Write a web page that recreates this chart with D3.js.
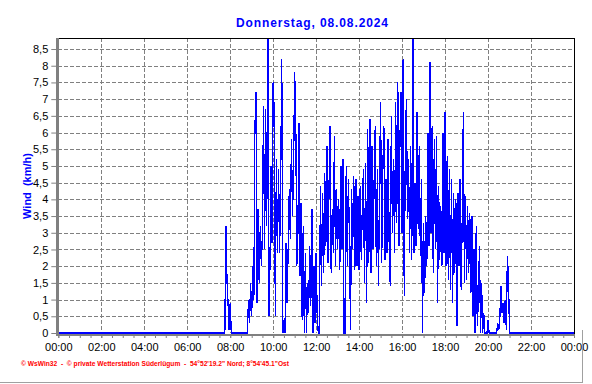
<!DOCTYPE html>
<html><head><meta charset="utf-8">
<script src="https://cdn.jsdelivr.net/npm/d3@7"></script>
<style>
html,body{margin:0;padding:0;background:#fff;}
svg{display:block;}
</style>
</head><body>
<svg id="chart" width="592" height="384"></svg>
<script>
const titleText = "Donnerstag, 08.08.2024";
const yAxisTitle = "Wind  (km/h)";
const footerText = "\u00A9 WsWin32  -  \u00A9 private Wetterstation S\u00FCderl\u00FCgum  -  54\u00B052'19.2\" Nord; 8\u00B054'45.1\"Ost";
const yTickValues = [0,0.5,1,1.5,2,2.5,3,3.5,4,4.5,5,5.5,6,6.5,7,7.5,8,8.5];
const xTickMinutes = [0,120,240,360,480,600,720,840,960,1080,1200,1320,1440];
const xTickLabels = ["00:00","02:00","04:00","06:00","08:00","10:00","12:00","14:00","16:00","18:00","20:00","22:00","00:00"];
// calm before/after the measured window (minute of day, km/h)
const calmBefore = [[0,0]];
const calmAfter = [[1440,0]];
// wind samples from 07:42 every 3 minutes
const sampleStartMinute = 462;
const sampleStepMinutes = 3;
const windKmh = [
0,0,3.2,1.6,0.9,0.1,0.9,0,0,0,0,0,0,0,0,0,0,0,0,0,0,0,0,
1.0,0.3,1.5,0.5,2.0,1.0,6.1,7.2,0.9,3.7,1.5,3.2,2.0,3.0,6.8,2.5,6.7,3.2,9.5,0.5,2.0,5.0,2.7,7.5,6.6,0.5,
5.2,2.4,4.9,2.4,4.6,8.2,0,0.4,0,2.7,0.9,2.6,4.3,2.8,5.8,3.5,5.0,7.8,6.5,2.0,3.0,6.3,1.7,3.9,0.4,3.2,0,2.4,0,1.5,0.6,
2.6,0.8,3.7,0,2.0,0.3,2.4,0.5,0,0,4.4,1.4,4.2,1.8,4.8,2.6,5.6,2.1,4.4,6.2,1.8,3.7,2.4,5.9,2.0,4.3,2.5,4.0,1.9,5.0,
2.5,5.2,0,0,5.0,2.0,4.6,2.8,0.1,4.3,2.5,4.7,1.9,4.6,2.0,4.1,1.9,4.4,2.2,3.8,4.9,1.5,5.1,0.9,6.1,2.1,6.4,1.8,5.6,2.5,
4.6,6.2,2.0,4.9,1.4,4.4,6.9,2.1,4.8,6.2,2.2,4.6,2.4,5.8,2.6,1.4,6.5,3.0,5.2,2.4,6.9,3.3,7.5,2.6,5.8,7.2,3.0,8.2,1.1,5.5,
7.0,3.4,5.2,2.4,5.6,2.2,9.5,2.4,4.5,2.6,6.6,3.1,5.6,2.3,4.6,0,3.3,1.2,3.5,2.0,6.0,2.6,8.1,3.0,6.2,1.8,5.8,2.5,5.9,0.9,
4.4,2.2,3.8,2.0,6.0,2.4,6.6,2.0,5.3,1.6,4.9,1.3,4.6,0.9,4.2,1.8,4.0,0.2,4.2,2.0,4.6,1.3,3.5,6.6,1.5,4.1,1.6,3.8,1.8,3.6,
1.2,3.5,0.5,2.5,0,3.2,0.2,1.0,2.6,0,1.5,0,0.6,0,0,0,0.4,0,0,0,0,0,0,0,0,0.3,0.1,0.5,1.4,0.6,0.9,0.3,1.0,0.1,2.3,1.6,0,0,0
];

const series = calmBefore
  .concat(windKmh.map((v,i)=>[sampleStartMinute + i*sampleStepMinutes, v]))
  .concat(calmAfter);

const svg = d3.select("#chart");
const pLeft = 58.3, pRight = 574, pTop = 38, pBottom = 333;

const x = d3.scaleLinear().domain([0,1440]).range([pLeft,pRight]);
const y = d3.scaleLinear().domain([0,8.83]).range([pBottom,pTop]);

// gridlines
const grid = svg.append("g").attr("stroke","#808080").attr("stroke-width",1)
  .attr("stroke-dasharray","4,2").attr("shape-rendering","crispEdges");
grid.selectAll("line.h").data(yTickValues.filter(v=>v>0)).enter().append("line")
  .attr("x1",pLeft).attr("x2",pRight)
  .attr("y1",d=>Math.round(y(d))+0.5).attr("y2",d=>Math.round(y(d))+0.5);
grid.selectAll("line.v").data(xTickMinutes.filter(m=>m>0 && m<1440)).enter().append("line")
  .attr("y1",pTop).attr("y2",pBottom)
  .attr("x1",d=>Math.round(x(d))+0.5).attr("x2",d=>Math.round(x(d))+0.5);

// data line
svg.append("clipPath").attr("id","clip").append("rect")
  .attr("x",pLeft-1).attr("y",pTop).attr("width",pRight-pLeft+1).attr("height",pBottom-pTop+2);
svg.append("path").datum(series)
  .attr("clip-path","url(#clip)")
  .attr("fill","none").attr("stroke","#0000ff").attr("stroke-width",1.3)
  .attr("shape-rendering","crispEdges")
  .attr("d", d3.line().x(d=>x(d[0])).y(d=>y(d[1])));

// frame: top & right black
svg.append("line").attr("x1",56).attr("x2",pRight+0.5).attr("y1",pTop+0.5).attr("y2",pTop+0.5)
  .attr("stroke","#000").attr("shape-rendering","crispEdges");
svg.append("line").attr("x1",pRight+0.5).attr("x2",pRight+0.5).attr("y1",pTop).attr("y2",pBottom+3)
  .attr("stroke","#000").attr("shape-rendering","crispEdges");

// axes with d3 axis generators
const yAxis = d3.axisLeft(y).tickValues(yTickValues).tickSize(5).tickPadding(3)
  .tickFormat(d=>String(d).replace(".",","));
const gy = svg.append("g").attr("transform",`translate(${pLeft-2},0)`).call(yAxis);
gy.select(".domain").remove();
gy.selectAll(".tick line").attr("stroke","#808080");
gy.selectAll(".tick text").attr("font-family","Liberation Sans, Arial, sans-serif").attr("font-size","11px").attr("fill","#000");

const minorTicks = d3.range(0,1441,30);
const xAxisMinor = d3.axisBottom(x).tickValues(minorTicks).tickSize(4).tickFormat("");
const gxm = svg.append("g").attr("transform",`translate(0,${pBottom+1})`).call(xAxisMinor);
gxm.select(".domain").remove();
gxm.selectAll(".tick line").attr("stroke","#808080");

const xAxis = d3.axisBottom(x).tickValues(xTickMinutes).tickSize(4).tickPadding(5)
  .tickFormat((d,i)=>xTickLabels[i]);
const gx = svg.append("g").attr("transform",`translate(0,${pBottom+1})`).call(xAxis);
gx.select(".domain").remove();
gx.selectAll(".tick line").attr("stroke","#808080");
gx.selectAll(".tick text").attr("font-family","Liberation Sans, Arial, sans-serif").attr("font-size","11px").attr("fill","#000");

// thick gray axis lines
svg.append("rect").attr("x",56).attr("y",pTop).attr("width",3).attr("height",pBottom-pTop+3).attr("fill","#808080");
svg.append("rect").attr("x",56).attr("y",pBottom+1).attr("width",pRight-56).attr("height",2).attr("fill","#808080");

// titles
svg.append("text").attr("x",312).attr("y",27).attr("text-anchor","middle")
  .attr("font-family","Liberation Sans, Arial, sans-serif").attr("font-weight","bold").attr("font-size","12px")
  .attr("fill","#0000ff").attr("textLength",152).attr("lengthAdjust","spacing").text(titleText);
svg.append("text").attr("transform","translate(31,186) rotate(-90)").attr("text-anchor","middle")
  .attr("font-family","Liberation Sans, Arial, sans-serif").attr("font-weight","bold").attr("font-size","11px")
  .attr("fill","#0000ff").style("white-space","pre").text(yAxisTitle);
svg.append("text").attr("x",21).attr("y",366)
  .attr("font-family","Liberation Sans, Arial, sans-serif").attr("font-weight","bold").attr("font-size","6.5px")
  .attr("fill","#ff0000").attr("textLength",268).attr("lengthAdjust","spacingAndGlyphs")
  .style("white-space","pre").text(footerText);

// outer frame bottom/right (gray)
svg.append("line").attr("x1",0).attr("x2",583).attr("y1",382.5).attr("y2",382.5).attr("stroke","#a0a0a0");
svg.append("line").attr("x1",582.5).attr("x2",582.5).attr("y1",330).attr("y2",383).attr("stroke","#a0a0a0");
</script>
</body></html>
